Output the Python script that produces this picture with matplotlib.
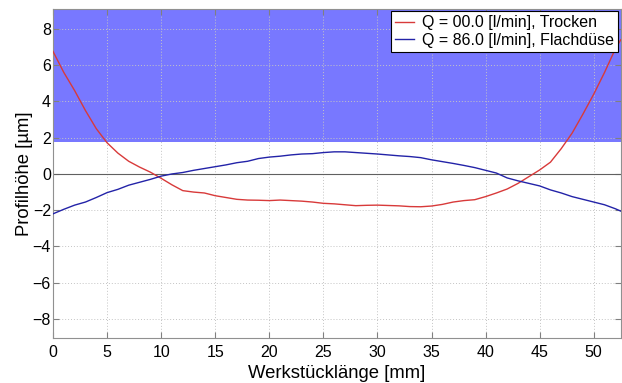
import matplotlib
matplotlib.use("Agg")
import matplotlib.pyplot as plt
import numpy as np

plt.rcParams['font.family'] = ['Liberation Sans', 'DejaVu Sans']

x_red = [0, 1, 2, 3, 4, 5, 6, 7, 8, 9, 10, 11, 12, 13, 14, 15, 16, 17, 18, 19,
         20, 21, 22, 23, 24, 25, 26, 27, 28, 29, 30, 31, 32, 33, 34, 35, 36, 37,
         38, 39, 40, 41, 42, 43, 44, 45, 46, 47, 48, 49, 50, 51, 52, 52.5]
y_red = [6.76, 5.6, 4.6, 3.5, 2.5, 1.72, 1.15, 0.7, 0.38, 0.1, -0.24, -0.6, -0.92,
         -1.0, -1.05, -1.2, -1.3, -1.4, -1.44, -1.45, -1.47, -1.44, -1.47, -1.5,
         -1.55, -1.62, -1.65, -1.7, -1.75, -1.73, -1.72, -1.74, -1.76, -1.8, -1.81,
         -1.77, -1.68, -1.55, -1.47, -1.42, -1.25, -1.05, -0.83, -0.52, -0.15, 0.22,
         0.65, 1.4, 2.25, 3.3, 4.4, 5.6, 6.9, 7.4]

x_blue = x_red
y_blue = [-2.2, -1.95, -1.72, -1.55, -1.3, -1.03, -0.85, -0.62, -0.46, -0.3, -0.12,
          0.0, 0.08, 0.2, 0.3, 0.4, 0.5, 0.62, 0.7, 0.85, 0.93, 0.98, 1.05, 1.1,
          1.12, 1.18, 1.22, 1.22, 1.18, 1.14, 1.1, 1.05, 1.0, 0.96, 0.9, 0.78, 0.68,
          0.58, 0.47, 0.35, 0.2, 0.05, -0.22, -0.38, -0.52, -0.66, -0.88, -1.05,
          -1.25, -1.4, -1.55, -1.7, -1.92, -2.05]

band_low = 1.77
band_high = 9.1

label_red = "Q = 00.0 [l/min], Trocken"
label_blue = "Q = 86.0 [l/min], Flachdüse"
xticks = [0, 5, 10, 15, 20, 25, 30, 35, 40, 45, 50]
yticks = [-8, -6, -4, -2, 0, 2, 4, 6, 8]

fig = plt.figure(figsize=(6.22, 3.83), dpi=100)
ax = fig.add_axes([0.0852, 0.1175, 0.9128, 0.859])

ax.axhspan(band_low, band_high, color='#7878ff', zorder=0.5, lw=0)
ax.axhline(0, color='#606060', lw=0.8, zorder=1)
ax.plot(x_red, y_red, color='#d83a3a', lw=1.0, label=label_red, zorder=3)
ax.plot(x_blue, y_blue, color='#2323a8', lw=1.0, label=label_blue, zorder=3)

ax.set_xlim(0, 52.5)
ax.set_ylim(-9.05, 9.1)
ax.set_xticks(xticks)
ax.set_yticks(yticks)
ax.grid(True, linestyle=(0, (1, 2)), color='#c4c4c4', lw=0.7, zorder=0)
ax.set_axisbelow(True)
ax.tick_params(direction='in', length=4, top=True, right=True, labelsize=11.5,
               color='#808080', pad=1.5)
ax.tick_params(axis='x', pad=5)
for s in ax.spines.values():
    s.set_color('#909090')
    s.set_linewidth(0.8)

ax.set_xlabel("Werkstücklänge [mm]", fontsize=13.3, labelpad=3.5)
ax.set_ylabel("Profilhöhe [µm]", fontsize=13.3)
ax.yaxis.set_label_coords(-0.035, 0.5)

leg = ax.legend(loc='upper right', fontsize=11.5, frameon=True, fancybox=False,
                borderaxespad=0.15, handlelength=1.2, handletextpad=0.5,
                borderpad=0.25, labelspacing=0.15)
leg.get_frame().set_edgecolor('black')
leg.get_frame().set_linewidth(0.8)
leg.get_frame().set_alpha(1)

fig.savefig("out.png", dpi=100)
